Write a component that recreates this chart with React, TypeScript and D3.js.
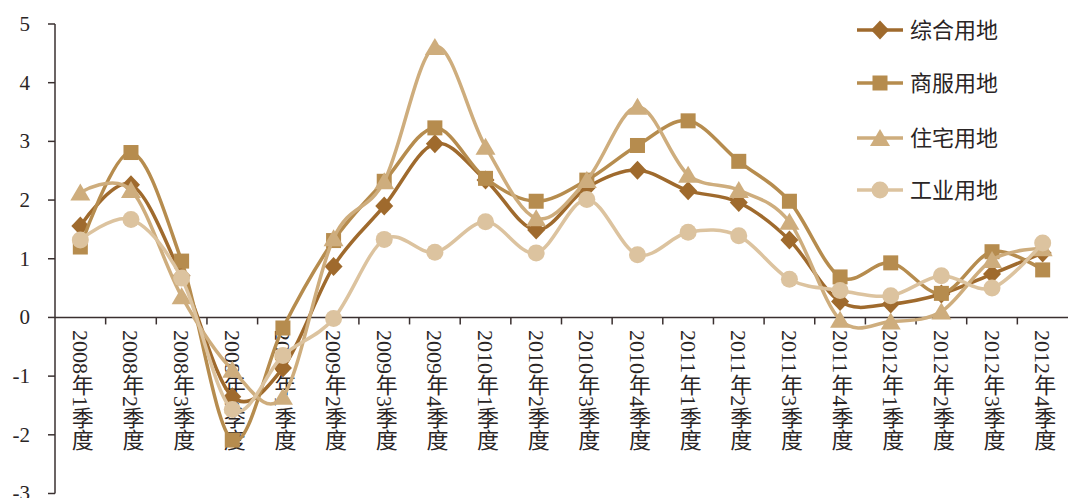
import * as d3 from 'd3';

const categories = [
  '2008年1季度', '2008年2季度', '2008年3季度', '2008年4季度',
  '2009年1季度', '2009年2季度', '2009年3季度', '2009年4季度',
  '2010年1季度', '2010年2季度', '2010年3季度', '2010年4季度',
  '2011年1季度', '2011年2季度', '2011年3季度', '2011年4季度',
  '2012年1季度', '2012年2季度', '2012年3季度', '2012年4季度',
];

const zongheValues = [1.56, 2.26, 0.71, -1.35, -0.86, 0.87, 1.9, 2.96, 2.34, 1.49, 2.21, 2.51, 2.16, 1.96, 1.32, 0.27, 0.23, 0.4, 0.74, 1.1];
const shangfuValues = [1.2, 2.81, 0.96, -2.09, -0.18, 1.31, 2.32, 3.23, 2.37, 1.98, 2.34, 2.93, 3.35, 2.66, 1.98, 0.69, 0.93, 0.41, 1.12, 0.81];
const zhuzhaiValues = [2.13, 2.17, 0.36, -0.89, -1.35, 1.35, 2.32, 4.61, 2.91, 1.69, 2.34, 3.59, 2.43, 2.17, 1.63, -0.04, -0.07, 0.1, 0.98, 1.18];
const gongyeValues = [1.32, 1.67, 0.67, -1.57, -0.65, -0.02, 1.33, 1.11, 1.63, 1.1, 2.01, 1.07, 1.45, 1.39, 0.65, 0.46, 0.37, 0.71, 0.5, 1.27];

const yTicks = [-3, -2, -1, 0, 1, 2, 3, 4, 5];

type Shape = 'diamond' | 'square' | 'triangle' | 'circle';

const series: { name: string; values: number[]; color: string; shape: Shape }[] = [
  { name: '综合用地', values: zongheValues, color: '#9f6a2d', shape: 'diamond' },
  { name: '商服用地', values: shangfuValues, color: '#b68c4e', shape: 'square' },
  { name: '住宅用地', values: zhuzhaiValues, color: '#cead7d', shape: 'triangle' },
  { name: '工业用地', values: gongyeValues, color: '#dcc39f', shape: 'circle' },
];

const width = 1068;
const height = 498;
const axisColor = '#3a3030';
const textColor = '#2a2525';
const fontFamily = '"Liberation Serif", "Noto Sans CJK SC", serif';

function Marker({ shape, x, y, color }: { shape: Shape; x: number; y: number; color: string }) {
  if (shape === 'diamond') {
    return <path d={`M${x},${y - 9.5}L${x + 9},${y}L${x},${y + 9.5}L${x - 9},${y}Z`} fill={color} />;
  }
  if (shape === 'square') {
    return <rect x={x - 7.5} y={y - 7.5} width={15} height={15} fill={color} />;
  }
  if (shape === 'triangle') {
    return <path d={`M${x},${y - 9}L${x + 10},${y + 8}L${x - 10},${y + 8}Z`} fill={color} />;
  }
  return <circle cx={x} cy={y} r={8.5} fill={color} />;
}

export default function App() {
  const x = d3.scaleBand<string>().domain(categories).range([55, 1068]).paddingInner(0).paddingOuter(0);
  const y = d3.scaleLinear().domain([-3, 5]).range([493.5, 24]);
  const cx = (c: string) => (x(c) || 0) + x.bandwidth() / 2;

  // Excel-style smoothing
  const line = d3.line<number>()
    .x((_, i) => cx(categories[i]))
    .y((d) => y(d))
    .curve(d3.curveCatmullRom.alpha(0));

  const boundaries = categories.slice(1).map((c) => x(c) || 0);

  return (
    <svg width={width} height={height} style={{ position: 'absolute', left: 0, top: 0, background: '#fff' }}>
      {/* x labels, drawn under the lines */}
      <g style={{ font: `22px ${fontFamily}`, fill: textColor }}>
        {categories.map((c) => (
          <text key={c} x={cx(c)} y={330} style={{ writingMode: 'vertical-rl' as any }}>
            {c}
          </text>
        ))}
      </g>

      {/* y axis */}
      <line x1={55} x2={55} y1={y(5)} y2={y(-3)} stroke={axisColor} strokeWidth={1.5} />
      {yTicks.map((t) => (
        <g key={t} transform={`translate(0, ${y(t)})`}>
          <line x1={48} x2={55} stroke={axisColor} strokeWidth={1.5} />
          <text x={30} dy="0.33em" textAnchor="end" style={{ font: `21px ${fontFamily}`, fill: textColor }}>
            {t}
          </text>
        </g>
      ))}

      {/* x axis at zero */}
      <line x1={55} x2={1068} y1={y(0)} y2={y(0)} stroke={axisColor} strokeWidth={1.5} />
      {boundaries.map((b, i) => (
        <line key={i} x1={b} x2={b} y1={y(0)} y2={y(0) + 7} stroke={axisColor} strokeWidth={1.5} />
      ))}

      {/* series */}
      {series.map((s) => (
        <g key={s.name}>
          <path d={line(s.values) || ''} fill="none" stroke={s.color} strokeWidth={3.5} />
          {s.values.map((v, i) => (
            <Marker key={i} shape={s.shape} x={cx(categories[i])} y={y(v)} color={s.color} />
          ))}
        </g>
      ))}

      {/* legend */}
      {series.map((s, i) => {
        const ly = [30, 83, 138, 190][i];
        return (
          <g key={s.name}>
            <line x1={857} x2={903} y1={ly} y2={ly} stroke={s.color} strokeWidth={3.5} />
            <Marker shape={s.shape} x={880} y={ly} color={s.color} />
            <text x={910} y={ly} dy="0.36em" style={{ font: `22px ${fontFamily}`, fill: textColor }}>
              {s.name}
            </text>
          </g>
        );
      })}
    </svg>
  );
}
